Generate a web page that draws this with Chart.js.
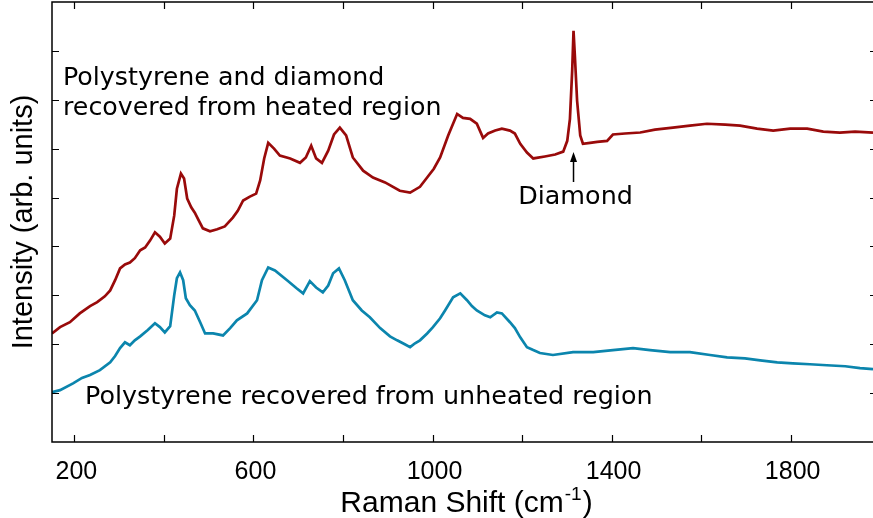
<!DOCTYPE html>
<html>
<head>
<meta charset="utf-8">
<title>Raman spectra</title>
<script src="https://cdn.jsdelivr.net/npm/chart.js@4.4.1/dist/chart.umd.min.js"></script>
<style>
  html, body { margin: 0; padding: 0; background: #fff; }
  canvas { display: block; }
</style>
</head>
<body>
<canvas id="grafic" width="873" height="518"></canvas>
<script>
// Raman shift (cm-1) and intensity for the heated region (polystyrene + diamond)
const heatedShift = [150,168,190,212,235,251,268,280,291,302,313,324,335,347,358,369,380,391,402,414,
  423,429,438,445,452,461,469,478,487,503,519,536,554,565,577,592,606,615,624,633,
  646,659,682,704,717,729,740,753,767,780,793,807,822,845,867,894,927,950,972,988,
  1003,1017,1035,1055,1068,1084,1099,1113,1124,1140,1155,1173,1184,1196,1211,1225,1251,1274,1292,1301,
  1307,1312,1315,1318,1323,1330,1336,1352,1368,1390,1403,1430,1464,1497,1537,1575,1613,1654,1687,1725,
  1761,1799,1837,1873,1910,1944,1984];
const heatedIntensity = [2.22,2.35,2.45,2.63,2.78,2.86,2.98,3.10,3.31,3.55,3.63,3.67,3.76,3.92,3.98,4.12,4.29,4.20,4.06,4.16,
  4.63,5.18,5.49,5.39,4.98,4.80,4.69,4.53,4.37,4.31,4.35,4.41,4.59,4.73,4.94,5.02,5.08,5.35,5.80,6.12,
  6.00,5.86,5.80,5.71,5.82,6.06,5.80,5.71,5.96,6.29,6.43,6.27,5.82,5.55,5.41,5.31,5.14,5.10,5.22,5.41,
  5.59,5.82,6.27,6.71,6.63,6.61,6.51,6.22,6.31,6.37,6.41,6.37,6.31,6.10,5.92,5.80,5.84,5.88,5.94,6.16,
  6.61,7.59,8.41,7.90,6.98,6.27,6.10,6.12,6.14,6.16,6.29,6.31,6.33,6.39,6.43,6.47,6.51,6.49,6.47,6.41,
  6.37,6.41,6.41,6.35,6.33,6.35,6.33];

// Unheated region (polystyrene only)
const unheatedShift = [150,168,197,217,235,257,280,291,302,313,324,335,347,364,380,391,402,414,423,429,
  436,443,449,458,469,481,492,510,532,548,563,586,608,619,633,648,675,697,711,726,
  740,755,767,778,791,804,822,842,860,883,905,921,938,950,961,972,988,1001,1017,1028,
  1046,1062,1077,1088,1099,1117,1129,1144,1155,1173,1184,1196,1211,1225,1240,1269,1314,1359,1403,1448,
  1486,1531,1575,1620,1658,1698,1732,1770,1805,1843,1881,1922,1955,1984];
const unheatedIntensity = [1.02,1.06,1.20,1.31,1.37,1.47,1.63,1.76,1.92,2.04,1.98,2.08,2.16,2.29,2.43,2.35,2.24,2.37,3.00,3.35,
  3.47,3.31,2.94,2.80,2.69,2.45,2.22,2.22,2.18,2.33,2.49,2.63,2.90,3.31,3.57,3.51,3.31,3.14,3.04,3.29,
  3.16,3.06,3.20,3.45,3.55,3.31,2.90,2.69,2.55,2.33,2.16,2.08,2.00,1.94,2.02,2.08,2.22,2.35,2.53,2.69,
  2.96,3.04,2.90,2.78,2.69,2.59,2.55,2.65,2.63,2.45,2.33,2.14,1.94,1.88,1.82,1.78,1.84,1.84,1.88,1.92,
  1.88,1.84,1.84,1.78,1.73,1.71,1.67,1.63,1.61,1.59,1.57,1.55,1.51,1.49];

// Axes
const xTicks = [200,400,600,800,1000,1200,1400,1600,1800];
const xLabels = [200,600,1000,1400,1800];
const yTicks = [1,2,3,4,5,6,7,8];
const diamondPeak = 1315;

const parells = (xs, ys) => xs.map((x, i) => ({ x: x, y: ys[i] }));

// Frame with inward ticks, x title with superscript, and annotations
const marcPlugin = {
  id: 'marc',
  afterDraw(chart) {
    const ctx = chart.ctx;
    const a = chart.chartArea;
    const sx = chart.scales.x, sy = chart.scales.y;
    ctx.save();
    ctx.strokeStyle = '#000';
    ctx.lineWidth = 1.5;
    ctx.beginPath();
    ctx.moveTo(a.right + 2, a.top); ctx.lineTo(a.left, a.top);
    ctx.lineTo(a.left, a.bottom); ctx.lineTo(a.right + 2, a.bottom);
    ctx.stroke();

    ctx.lineWidth = 1.2;
    ctx.beginPath();
    xTicks.forEach(v => {
      const p = Math.round(sx.getPixelForValue(v)) + 0.5;
      ctx.moveTo(p, a.bottom); ctx.lineTo(p, a.bottom - 7);
      ctx.moveTo(p, a.top); ctx.lineTo(p, a.top + 7);
    });
    yTicks.forEach(v => {
      const p = Math.round(sy.getPixelForValue(v)) + 0.5;
      ctx.moveTo(a.left, p); ctx.lineTo(a.left + 7, p);
      ctx.moveTo(a.right, p); ctx.lineTo(a.right - 3, p);
    });
    ctx.stroke();

    // x title: Raman Shift (cm^-1)
    ctx.fillStyle = '#000';
    ctx.textBaseline = 'alphabetic';
    const big = '30px "Liberation Sans", Arial, sans-serif';
    const small = '19px "Liberation Sans", Arial, sans-serif';
    const t1 = 'Raman Shift (cm', t2 = '-1', t3 = ')';
    ctx.font = big; const w1 = ctx.measureText(t1).width, w3 = ctx.measureText(t3).width;
    ctx.font = small; const w2 = ctx.measureText(t2).width;
    let x0 = (a.left + a.right) / 2 + 3 - (w1 + w2 + w3) / 2;
    const base = 512;
    ctx.font = big; ctx.textAlign = 'left';
    ctx.fillText(t1, x0, base);
    ctx.font = small; ctx.fillText(t2, x0 + w1 + 1, base - 12);
    ctx.font = big; ctx.fillText(t3, x0 + w1 + w2 + 2, base);

    // annotations
    ctx.font = '25.3px "DejaVu Sans", sans-serif';
    ctx.fillText('Polystyrene and diamond', 63, 85);
    ctx.fillText('recovered from heated region', 63, 115);
    ctx.font = '25.4px "DejaVu Sans", sans-serif';
    ctx.fillText('Polystyrene recovered from unheated region', 85, 404);
    const px = sx.getPixelForValue(diamondPeak);
    ctx.textAlign = 'center';
    ctx.fillText('Diamond', px + 2, 204);

    // arrow towards the diamond peak
    ctx.lineWidth = 1.5;
    ctx.beginPath();
    ctx.moveTo(px, 182); ctx.lineTo(px, 156);
    ctx.stroke();
    ctx.beginPath();
    ctx.moveTo(px, 152); ctx.lineTo(px - 3.5, 162); ctx.lineTo(px + 3.5, 162);
    ctx.closePath(); ctx.fill();
    ctx.restore();
  }
};

new Chart(document.getElementById('grafic'), {
  type: 'line',
  data: {
    datasets: [
      { label: 'heated', data: parells(heatedShift, heatedIntensity),
        borderColor: '#990a0a', borderWidth: 2.7, pointRadius: 0, tension: 0 },
      { label: 'unheated', data: parells(unheatedShift, unheatedIntensity),
        borderColor: '#0b85ad', borderWidth: 2.7, pointRadius: 0, tension: 0 }
    ]
  },
  options: {
    responsive: false,
    animation: false,
    layout: { padding: { top: 2, right: 0, left: 0, bottom: 0 } },
    plugins: { legend: { display: false }, tooltip: { enabled: false } },
    scales: {
      x: {
        type: 'linear', min: 150, max: 1984,
        grid: { display: false }, border: { display: false },
        afterBuildTicks: s => { s.ticks = xLabels.map(v => ({ value: v })); },
        afterFit: s => { s.height = 76; },
        ticks: {
          color: '#000', padding: 7, maxRotation: 0, autoSkip: false, labelOffset: 2,
          callback: v => String(v),
          font: { family: '"Liberation Sans", Arial, sans-serif', size: 25 }
        }
      },
      y: {
        min: 0, max: 9,
        grid: { display: false }, border: { display: false },
        ticks: { display: false },
        afterFit: s => { s.width = 52; },
        title: {
          display: true, text: 'Intensity (arb. units)', color: '#000',
          padding: { top: 7, bottom: 0 },
          font: { family: '"Liberation Sans", Arial, sans-serif', size: 29 }
        }
      }
    }
  },
  plugins: [marcPlugin]
});
</script>
</body>
</html>
